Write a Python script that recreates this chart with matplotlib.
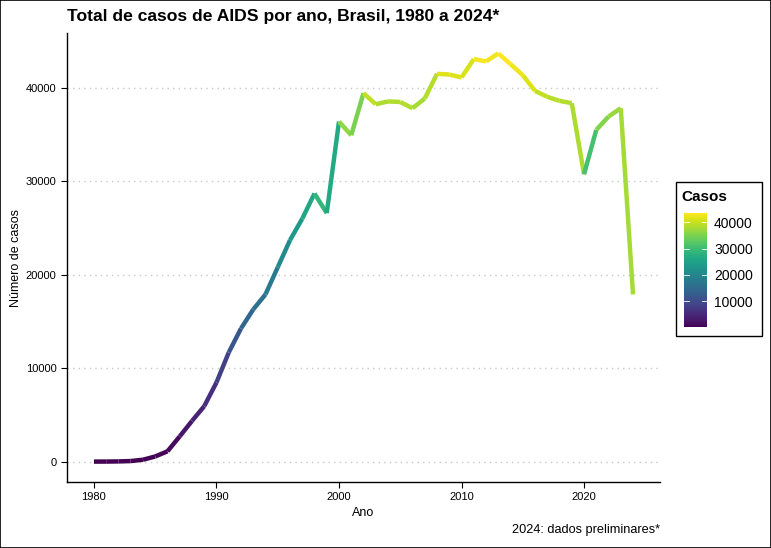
import numpy as np
import matplotlib.pyplot as plt
from matplotlib.collections import LineCollection
from matplotlib.patches import Rectangle
import matplotlib as mpl

plt.rcParams['font.family'] = ['Liberation Sans', 'DejaVu Sans']

# casos de AIDS por ano
anos = list(range(1980, 2025))
casos = [0, 5, 20, 60, 200, 550, 1100, 2700, 4350, 5930,
         8470, 11680, 14250, 16290, 17900, 20800, 23700, 26000, 28700, 26600,
         36400, 34940, 39440, 38260, 38560, 38500, 37830, 38870, 41510, 41440,
         41120, 43090, 42840, 43700, 42550, 41370, 39690, 39050, 38620, 38370,
         30760, 35510, 36940, 37830, 17900]
yticks = [0, 10000, 20000, 30000, 40000]
xticks = [1980, 1990, 2000, 2010, 2020]
cbar_ticks = [10000, 20000, 30000, 40000]

fig = plt.figure(figsize=(7.71, 5.48), dpi=100)
ax = fig.add_axes([0.0869, 0.1204, 0.7691, 0.8194])

x = np.array(anos, dtype=float)
y = np.array(casos, dtype=float)
pts = np.column_stack([x, y]).reshape(-1, 1, 2)
segs = np.concatenate([pts[:-1], pts[1:]], axis=1)
norm = mpl.colors.Normalize(vmin=y.min(), vmax=y.max())
lc = LineCollection(segs, cmap='viridis', norm=norm, linewidth=3.2, capstyle='butt', joinstyle='round')
lc.set_array(y[:-1])
ax.add_collection(lc)

rng = y.max() - y.min()
ax.set_xlim(1980 - 0.05 * 44, 2024 + 0.05 * 44)
ax.set_ylim(y.min() - 0.05 * rng, y.max() + 0.05 * rng)
ax.set_xticks(xticks)
ax.set_yticks(yticks)
ax.tick_params(labelsize=8, length=4, width=0.8, color='black', labelcolor='black')
for yt in yticks:
    ax.axhline(yt, color='#c8c8c8', lw=1.0, ls=(0, (1, 3)), zorder=0)
for s in ['top', 'right']:
    ax.spines[s].set_visible(False)
for s in ['left', 'bottom']:
    ax.spines[s].set_linewidth(1.0)
ax.set_xlabel('Ano', fontsize=9, labelpad=3)
ax.set_ylabel('Número de casos', fontsize=9, labelpad=3)

fig.text(0.0869, 0.969, 'Total de casos de AIDS por ano, Brasil, 1980 a 2024*',
         fontsize=12.6, fontweight='bold', va='center', ha='left')
fig.text(0.856, 0.033, '2024: dados preliminares*', fontsize=9.2, ha='right', va='center')

# legenda (barra de cores)
fig.patches.append(Rectangle((0.8768, 0.3869), 0.1115, 0.281, transform=fig.transFigure,
                             fill=False, edgecolor='black', lw=1.0))
fig.text(0.8835, 0.641, 'Casos', fontsize=11, fontweight='bold', va='center', ha='left')
cax = fig.add_axes([0.887, 0.4027, 0.030, 0.209])
cb = fig.colorbar(mpl.cm.ScalarMappable(norm=norm, cmap='viridis'), cax=cax, ticks=cbar_ticks)
cb.outline.set_visible(False)
cax.tick_params(length=0, labelsize=10, pad=5)
for t in cbar_ticks:
    cax.plot([0, 0.2], [t, t], color='white', lw=0.6, transform=cax.get_yaxis_transform())
    cax.plot([0.8, 1.0], [t, t], color='white', lw=0.6, transform=cax.get_yaxis_transform())

fig.patches.append(Rectangle((0.0005, 0.0005), 0.999, 0.999, transform=fig.transFigure,
                             fill=False, edgecolor='black', lw=1.2))

fig.savefig('out.png', dpi=100)
